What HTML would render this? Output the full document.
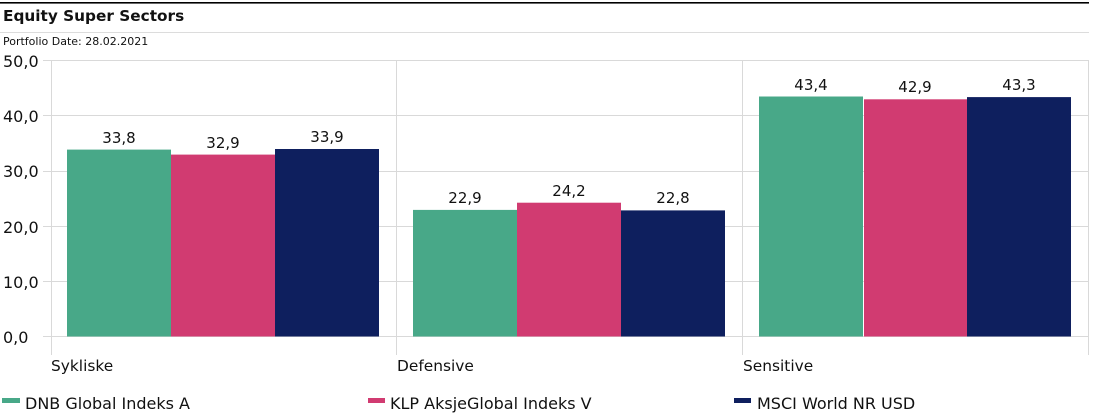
<!DOCTYPE html>
<html>
<head>
<meta charset="utf-8">
<style>
  html,body{margin:0;padding:0;background:#fff;}
  svg{display:block;}
  text{font-family:"DejaVu Sans","Liberation Sans",sans-serif;fill:#111;}
</style>
</head>
<body>
<svg width="1093" height="415" viewBox="0 0 1093 415" xmlns="http://www.w3.org/2000/svg">
  <!-- header -->
  <rect x="0" y="2" width="1089" height="1.6" fill="#000"/>
  <text x="3" y="21" font-size="15.3" font-weight="bold">Equity Super Sectors</text>
  <rect x="0" y="32" width="1089" height="1" fill="#dcdcdc"/>
  <text x="3" y="45" font-size="11">Portfolio Date: 28.02.2021</text>

  <!-- gridlines -->
  <g stroke="#d9d9d9" stroke-width="1">
    <line x1="43" y1="60.5" x2="1089" y2="60.5"/>
    <line x1="43" y1="115.5" x2="1089" y2="115.5"/>
    <line x1="43" y1="171.5" x2="1089" y2="171.5"/>
    <line x1="43" y1="226.5" x2="1089" y2="226.5"/>
    <line x1="43" y1="281.5" x2="1089" y2="281.5"/>
    <line x1="43" y1="336.5" x2="1089" y2="336.5"/>
    <line x1="51.5" y1="60" x2="51.5" y2="355"/>
    <line x1="396.5" y1="60" x2="396.5" y2="355"/>
    <line x1="742.5" y1="60" x2="742.5" y2="355"/>
    <line x1="1088.5" y1="60" x2="1088.5" y2="355"/>
  </g>

  <!-- y labels -->
  <g font-size="16">
    <text x="3" y="67">50,0</text>
    <text x="3" y="122">40,0</text>
    <text x="3" y="177">30,0</text>
    <text x="3" y="233">20,0</text>
    <text x="3" y="288">10,0</text>
    <text x="3" y="343">0,0</text>
  </g>

  <!-- bars -->
  <g>
    <rect x="67" y="149.6" width="104" height="186.9" fill="#48a888"/>
    <rect x="171" y="154.6" width="104" height="181.9" fill="#d13b71"/>
    <rect x="275" y="149.0" width="104" height="187.5" fill="#0e1f5e"/>
    <rect x="413" y="209.9" width="104" height="126.6" fill="#48a888"/>
    <rect x="517" y="202.7" width="104" height="133.8" fill="#d13b71"/>
    <rect x="621" y="210.4" width="104" height="126.1" fill="#0e1f5e"/>
    <rect x="759" y="96.5" width="104" height="240.0" fill="#48a888"/>
    <rect x="864" y="99.3" width="103" height="237.2" fill="#d13b71"/>
    <rect x="967" y="97.1" width="104" height="239.4" fill="#0e1f5e"/>
  </g>

  <!-- bar labels -->
  <g font-size="15" text-anchor="middle">
    <text x="119" y="143">33,8</text>
    <text x="223" y="148">32,9</text>
    <text x="327" y="142">33,9</text>
    <text x="465" y="203">22,9</text>
    <text x="569" y="196">24,2</text>
    <text x="673" y="203">22,8</text>
    <text x="811" y="90">43,4</text>
    <text x="915" y="92">42,9</text>
    <text x="1019" y="90">43,3</text>
  </g>

  <!-- category labels -->
  <g font-size="15.4">
    <text x="51" y="371">Sykliske</text>
    <text x="397" y="371">Defensive</text>
    <text x="743" y="371">Sensitive</text>
  </g>

  <!-- legend -->
  <rect x="2" y="398" width="18" height="5" fill="#48a888"/>
  <text x="25" y="409" font-size="16">DNB Global Indeks A</text>
  <rect x="368" y="398" width="17" height="5" fill="#d13b71"/>
  <text x="390" y="409" font-size="16">KLP AksjeGlobal Indeks V</text>
  <rect x="734" y="398" width="17" height="5" fill="#0e1f5e"/>
  <text x="757" y="409" font-size="16">MSCI World NR USD</text>
</svg>
</body>
</html>
